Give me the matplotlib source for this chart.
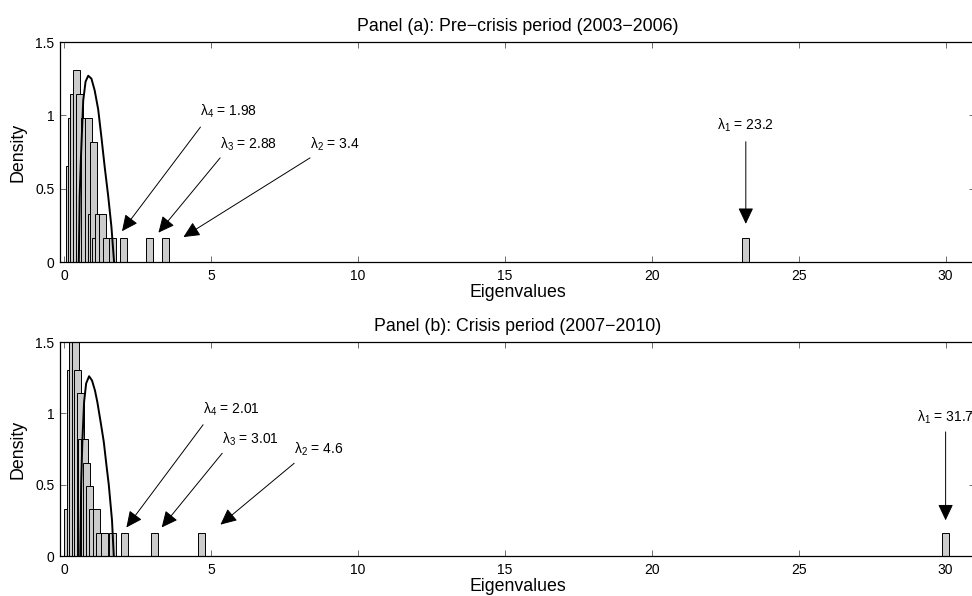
import matplotlib
matplotlib.use("Agg")
import matplotlib.pyplot as plt

plt.rcParams["font.family"] = ["Liberation Sans", "DejaVu Sans"]
plt.rcParams["mathtext.fontset"] = "custom"
plt.rcParams["mathtext.rm"] = "Liberation Sans"
plt.rcParams["mathtext.it"] = "Liberation Sans"

# histogram bars: bin centre, density
centers_a = [0.17, 0.26, 0.33, 0.43, 0.51, 0.68, 0.84, 0.93, 1.00, 1.07, 1.17, 1.31,
             1.46, 1.64, 2.02, 2.91, 3.46, 23.2]
density_a = [0.653, 0.98, 1.143, 1.307, 1.143, 0.98, 0.98, 0.327, 0.817, 0.163, 0.327, 0.327,
             0.163, 0.163, 0.163, 0.163, 0.163, 0.163]

centers_b = [0.12, 0.21, 0.29, 0.38, 0.46, 0.55, 0.60, 0.69, 0.76, 0.86, 0.96, 1.10,
             1.19, 1.36, 1.64, 2.04, 3.07, 4.66, 30.0]
density_b = [0.327, 1.307, 1.80, 1.63, 1.307, 1.143, 0.817, 0.817, 0.653, 0.49, 0.327, 0.327,
             0.163, 0.163, 0.163, 0.163, 0.163, 0.163, 0.163]

# theoretical density curve
curve_x_a = [0.50, 0.53, 0.57, 0.65, 0.73, 0.82, 0.93, 1.04, 1.16, 1.27, 1.38, 1.50, 1.61, 1.70]
curve_y_a = [0.0, 0.45, 0.70, 1.10, 1.23, 1.27, 1.25, 1.17, 1.04, 0.85, 0.65, 0.45, 0.24, 0.0]
curve_x_b = [0.55, 0.58, 0.62, 0.68, 0.75, 0.85, 0.95, 1.05, 1.13, 1.25, 1.35, 1.45, 1.52, 1.63, 1.69]
curve_y_b = [0.0, 0.50, 0.80, 1.08, 1.21, 1.26, 1.23, 1.16, 1.08, 0.93, 0.80, 0.62, 0.50, 0.25, 0.0]

# largest eigenvalues
lam_a = [23.2, 3.4, 2.88, 1.98]
lam_b = [31.7, 4.6, 3.01, 2.01]

titles = ["Panel (a): Pre\u2212crisis period (2003\u22122006)",
          "Panel (b): Crisis period (2007\u22122010)"]

# annotation layout: (text x, text y, tail y, tip x, tip y), order lambda_1..lambda_4
layout_a = [(23.2, 0.93, 0.82, 23.2, 0.26),
            (8.37, 0.80, 0.71, 4.06, 0.17),
            (5.31, 0.80, 0.71, 3.21, 0.20),
            (4.64, 1.03, 0.92, 1.97, 0.21)]
layout_b = [(30.0, 0.97, 0.87, 30.0, 0.25),
            (7.83, 0.75, 0.65, 5.32, 0.22),
            (5.38, 0.82, 0.72, 3.32, 0.20),
            (4.73, 1.03, 0.92, 2.12, 0.20)]

fig = plt.figure(figsize=(9.72, 5.96), dpi=100)
ax_a = fig.add_axes([60 / 972, 1 - 262 / 596, 915 / 972, 220 / 596])
ax_b = fig.add_axes([60 / 972, 1 - 556 / 596, 915 / 972, 214 / 596])

panels = [(ax_a, centers_a, density_a, curve_x_a, curve_y_a, lam_a, layout_a),
          (ax_b, centers_b, density_b, curve_x_b, curve_y_b, lam_b, layout_b)]

for i, (ax, cen, dens, cx, cy, lam, lay) in enumerate(panels):
    ax.bar(cen, dens, width=0.24, color="#cccccc", edgecolor="black", linewidth=0.7, zorder=2)
    ax.plot(cx, cy, color="black", lw=1.4, zorder=3)
    for k, (val, (tx, ty, taily, hx, hy)) in enumerate(zip(lam, lay)):
        label = "\u03bb$_{\\mathrm{%d}}$ = %s" % (k + 1, f"{val:g}")
        ax.text(tx, ty, label, ha="center" if k == 0 else "left", va="center",
                fontsize=10, clip_on=False)
        ax.annotate("", xy=(hx, hy), xytext=(tx, taily),
                    arrowprops=dict(arrowstyle="-|>,head_length=0.55,head_width=0.26",
                                    lw=0.7, color="black", mutation_scale=18,
                                    shrinkA=0, shrinkB=0),
                    zorder=4, annotation_clip=False)
    ax.set_xlim(-0.14, 31.0)
    ax.set_ylim(0, 1.5)
    ax.set_xticks([0, 5, 10, 15, 20, 25, 30])
    ax.set_yticks([0, 0.5, 1, 1.5])
    ax.set_yticklabels(["0", "0.5", "1", "1.5"])
    ax.tick_params(direction="in", top=True, right=True, length=4.5, width=0.6,
                   labelsize=10, color="#555555")
    ax.tick_params(axis="x", pad=5)
    ax.tick_params(axis="y", pad=4)
    for s in ax.spines.values():
        s.set_linewidth(0.9)
    ax.set_xlabel("Eigenvalues", fontsize=12.8, labelpad=1)
    ax.set_ylabel("Density", fontsize=12.8, labelpad=6)
    ax.set_title(titles[i], fontsize=12.8, pad=8)

fig.savefig("out.png", dpi=100)
